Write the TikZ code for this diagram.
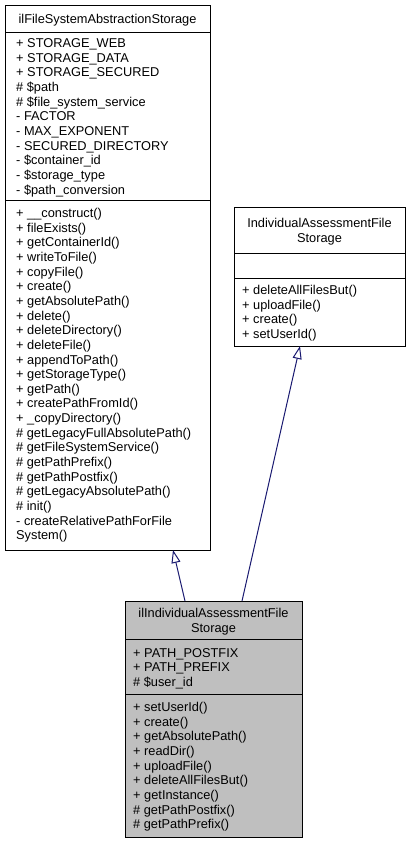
\documentclass[tikz,border=0pt]{standalone}
\usepackage{fontspec}
\setmainfont{Liberation Sans}
\usetikzlibrary{arrows.meta}
\definecolor{edgeblue}{RGB}{25,25,112}
\definecolor{boxgray}{RGB}{191,191,191}
\begin{document}
\begin{tikzpicture}[x=1pt,y=-1pt,
  box/.style={draw=black, line width=1pt, anchor=north west, inner sep=0pt, outer sep=0pt},
  txt/.style={anchor=base west, inner sep=0pt, font=\fontsize{12.8}{14.65}\selectfont},
  ttl/.style={anchor=base, inner sep=0pt, font=\fontsize{12.8}{14.65}\selectfont},
  sep/.style={draw=black, line width=1pt},
  inh/.style={draw=edgeblue, line width=1pt, -{Triangle[open, length=13pt, width=9pt]}}]
\useasboundingbox (0,0) rectangle (411,844);

% ---------- class ilFileSystemAbstractionStorage ----------
\node[box, minimum width=205pt, minimum height=545pt] (c1) at (5,5) {};
\draw[sep] (c1.west |- 0,32) -- (c1.east |- 0,32);
\draw[sep] (c1.west |- 0,200) -- (c1.east |- 0,200);
\node[ttl] (c1t) at (c1.north |- 0,23) {ilFileSystemAbstractionStorage};
\foreach \s [count=\i from 0] in {%
  + STORAGE\_WEB, + STORAGE\_DATA, + STORAGE\_SECURED, \# \$path,
  \# \$file\_system\_service, - FACTOR, - MAX\_EXPONENT,
  - SECURED\_DIRECTORY, - \$container\_id, - \$storage\_type,
  - \$path\_conversion}
  \node[txt] (c1a\i) at (16,{47.5+14.65*\i}) {\s};
\foreach \s [count=\i from 0] in {%
  + \_\_construct(), + fileExists(), + getContainerId(), + writeToFile(),
  + copyFile(), + create(), + getAbsolutePath(), + delete(),
  + deleteDirectory(), + deleteFile(), + appendToPath(),
  + getStorageType(), + getPath(), + createPathFromId(),
  + \_copyDirectory(), \# getLegacyFullAbsolutePath(),
  \# getFileSystemService(), \# getPathPrefix(), \# getPathPostfix(),
  \# getLegacyAbsolutePath(), \# init(), - createRelativePathForFile,
  System()}
  \node[txt] (c1m\i) at (16,{217.5+14.65*\i}) {\s};

% ---------- class IndividualAssessmentFileStorage ----------
\node[box, minimum width=171pt, minimum height=139pt] (c2) at (234,207) {};
\draw[sep] (c2.west |- 0,253) -- (c2.east |- 0,253);
\draw[sep] (c2.west |- 0,278) -- (c2.east |- 0,278);
\node[ttl] (c2t1) at (c2.north |- 0,227.5) {IndividualAssessmentFile};
\node[ttl] (c2t2) at (c2.north |- 0,242) {Storage};
\foreach \s [count=\i from 0] in {%
  + deleteAllFilesBut(), + uploadFile(), + create(), + setUserId()}
  \node[txt] (c2m\i) at (242,{294.5+14.65*\i}) {\s};

% ---------- class ilIndividualAssessmentFileStorage ----------
\node[box, fill=boxgray, minimum width=177pt, minimum height=236pt] (c3) at (125,601) {};
\draw[sep] (c3.west |- 0,639) -- (c3.east |- 0,639);
\draw[sep] (c3.west |- 0,694) -- (c3.east |- 0,694);
\node[ttl] (c3t1) at (c3.north |- 0,617.5) {ilIndividualAssessmentFile};
\node[ttl] (c3t2) at (c3.north |- 0,632) {Storage};
\foreach \s [count=\i from 0] in {%
  + PATH\_POSTFIX, + PATH\_PREFIX, \# \$user\_id}
  \node[txt] (c3a\i) at (133,{657+14.65*\i}) {\s};
\foreach \s [count=\i from 0] in {%
  + setUserId(), + create(), + getAbsolutePath(), + readDir(),
  + uploadFile(), + deleteAllFilesBut(), + getInstance(),
  \# getPathPostfix(), \# getPathPrefix()}
  \node[txt] (c3m\i) at (133,{711.5+14.65*\i}) {\s};

% ---------- inheritance ----------
\draw[inh] ([xshift=60pt]c3.north west) -- ([xshift=168pt]c1.south west);
\draw[inh] ([xshift=117pt]c3.north west) -- ([xshift=66pt]c2.south west);
\end{tikzpicture}
\end{document}
